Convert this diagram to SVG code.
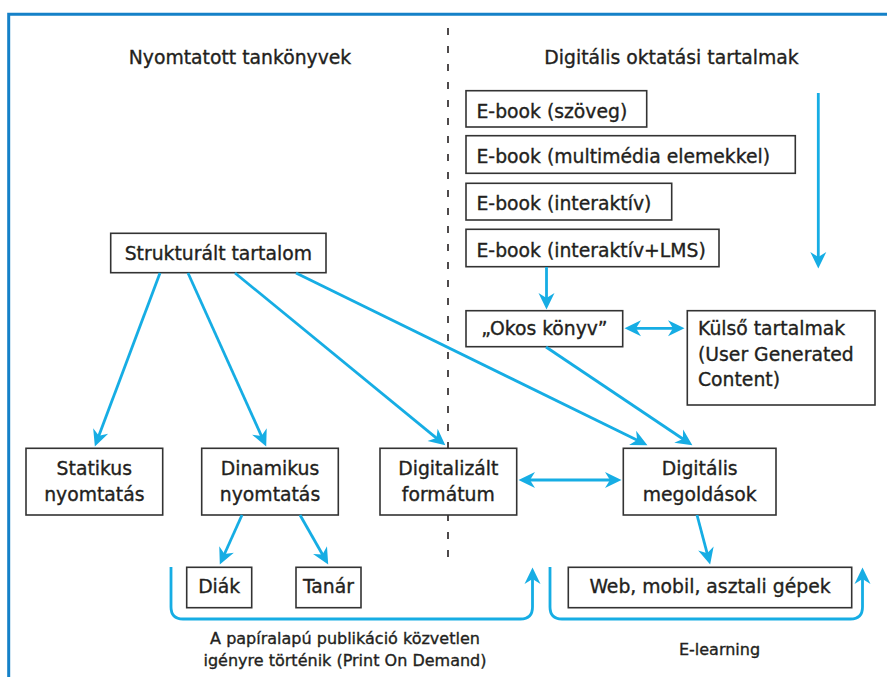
<svg xmlns="http://www.w3.org/2000/svg" width="887" height="677" viewBox="0 0 887 677">
<style>
text{font-family:"DejaVu Sans","Liberation Sans",sans-serif;fill:#231f20;stroke:#231f20;stroke-width:0.35;font-size:18.8px}
.c{text-anchor:middle}
.cap{font-size:16px}
.box{fill:#fff;stroke:#333;stroke-width:1.6}
.ln{fill:none;stroke:#16ade4;stroke-width:2.8}
.a{marker-end:url(#ah)}
.b{marker-start:url(#ah);marker-end:url(#ah)}
</style>
<defs>
<marker id="ah" viewBox="-9 -10 20 20" refX="0" refY="0" markerWidth="20" markerHeight="20" markerUnits="userSpaceOnUse" orient="auto-start-reverse">
<path d="M9.5,0 L-7,-8 L-2,0 L-7,8 Z" fill="#16ade4"/>
</marker>
</defs>
<rect width="887" height="677" fill="#fff"/>
<g id="frame">
<path d="M8.7,677 V14.2 H887" fill="none" stroke="#1581c8" stroke-width="3"/>
</g>
<g id="divider">
<line x1="448" y1="28" x2="448" y2="558" stroke="#231f20" stroke-width="1.6" stroke-dasharray="7 11"/>
</g>
<g id="titles">
<text class="c" x="240" y="64">Nyomtatott tankönyvek</text>
<text class="c" x="671.5" y="64">Digitális oktatási tartalmak</text>
</g>
<g id="ebook1"><rect class="box" x="466" y="90.7" width="180.7" height="36.3"/><text x="476.5" y="118.3">E-book (szöveg)</text></g>
<g id="ebook2"><rect class="box" x="466" y="135.7" width="329.3" height="37.6"/><text x="476.5" y="163.3">E-book (multimédia elemekkel)</text></g>
<g id="ebook3"><rect class="box" x="466" y="183.3" width="205.7" height="36.7"/><text x="476.5" y="210.3">E-book (interaktív)</text></g>
<g id="ebook4"><rect class="box" x="466" y="229.3" width="253" height="37.4"/><text x="476.5" y="256.7">E-book (interaktív+LMS)</text></g>
<g id="okos"><rect class="box" x="466" y="310.7" width="156.7" height="36"/><text class="c" x="544.3" y="335">„Okos könyv”</text></g>
<g id="kulso"><rect class="box" x="687.3" y="310.7" width="187.7" height="94.3"/><text x="698" y="335">Külső tartalmak</text><text x="698" y="360.5">(User Generated</text><text x="698" y="386">Content)</text></g>
<g id="strukturalt"><rect class="box" x="110.7" y="233.3" width="215.3" height="39.4"/><text class="c" x="218.3" y="259.5">Strukturált tartalom</text></g>
<g id="statikus"><rect class="box" x="26" y="448.3" width="136.7" height="66.7"/><text class="c" x="94.3" y="475">Statikus</text><text class="c" x="94.3" y="500.7">nyomtatás</text></g>
<g id="dinamikus"><rect class="box" x="201.7" y="448.3" width="136.6" height="66.7"/><text class="c" x="270" y="475">Dinamikus</text><text class="c" x="270" y="500.7">nyomtatás</text></g>
<g id="digitalizalt"><rect class="box" x="380" y="448.3" width="136.7" height="66.7"/><text class="c" x="448.3" y="475">Digitalizált</text><text class="c" x="448.3" y="500.7">formátum</text></g>
<g id="digitalis"><rect class="box" x="623.3" y="448.3" width="152.7" height="66.7"/><text class="c" x="699.7" y="475">Digitális</text><text class="c" x="699.7" y="500.7">megoldások</text></g>
<g id="diak"><rect class="box" x="186.7" y="567.3" width="65" height="40.4"/><text class="c" x="219.2" y="593.3">Diák</text></g>
<g id="tanar"><rect class="box" x="296" y="567.3" width="65" height="40.4"/><text class="c" x="328.5" y="593.3">Tanár</text></g>
<g id="web"><rect class="box" x="568.3" y="567.3" width="283.4" height="40.4"/><text class="c" x="710" y="593.3">Web, mobil, asztali gépek</text></g>
<g id="captions">
<text class="c cap" x="345" y="644.3">A papíralapú publikáció közvetlen</text>
<text class="c cap" x="345" y="666">igényre történik (Print On Demand)</text>
<text class="c cap" x="719.5" y="655">E-learning</text>
</g>
<g id="connectors">
<line class="ln a" x1="160" y1="273" x2="98.2" y2="437.6"/>
<line class="ln a" x1="188" y1="273" x2="262.3" y2="437.8"/>
<line class="ln a" x1="235" y1="273" x2="438" y2="439.3"/>
<line class="ln a" x1="296" y1="273" x2="638.9" y2="441"/>
<line class="ln a" x1="546" y1="347" x2="684.5" y2="440"/>
<line class="ln a" x1="242" y1="515" x2="223.7" y2="555.8"/>
<line class="ln a" x1="300" y1="515" x2="323.5" y2="556.2"/>
<line class="ln a" x1="697" y1="515" x2="707.7" y2="555.3"/>
<line class="ln a" x1="546.5" y1="267" x2="546.5" y2="300"/>
<line class="ln a" x1="818.3" y1="93" x2="818.3" y2="259"/>
<line class="ln b" x1="634" y1="328.3" x2="675" y2="328.3"/>
<line class="ln b" x1="528" y1="480" x2="612" y2="480"/>
<path class="ln a" d="M171,567 V607 Q171,619 183,619 H520.5 Q532.5,619 532.5,607 V577"/>
<path class="ln a" d="M550,567 V607 Q550,619 562,619 H850.5 Q862.5,619 862.5,607 V577"/>
</g>
</svg>
